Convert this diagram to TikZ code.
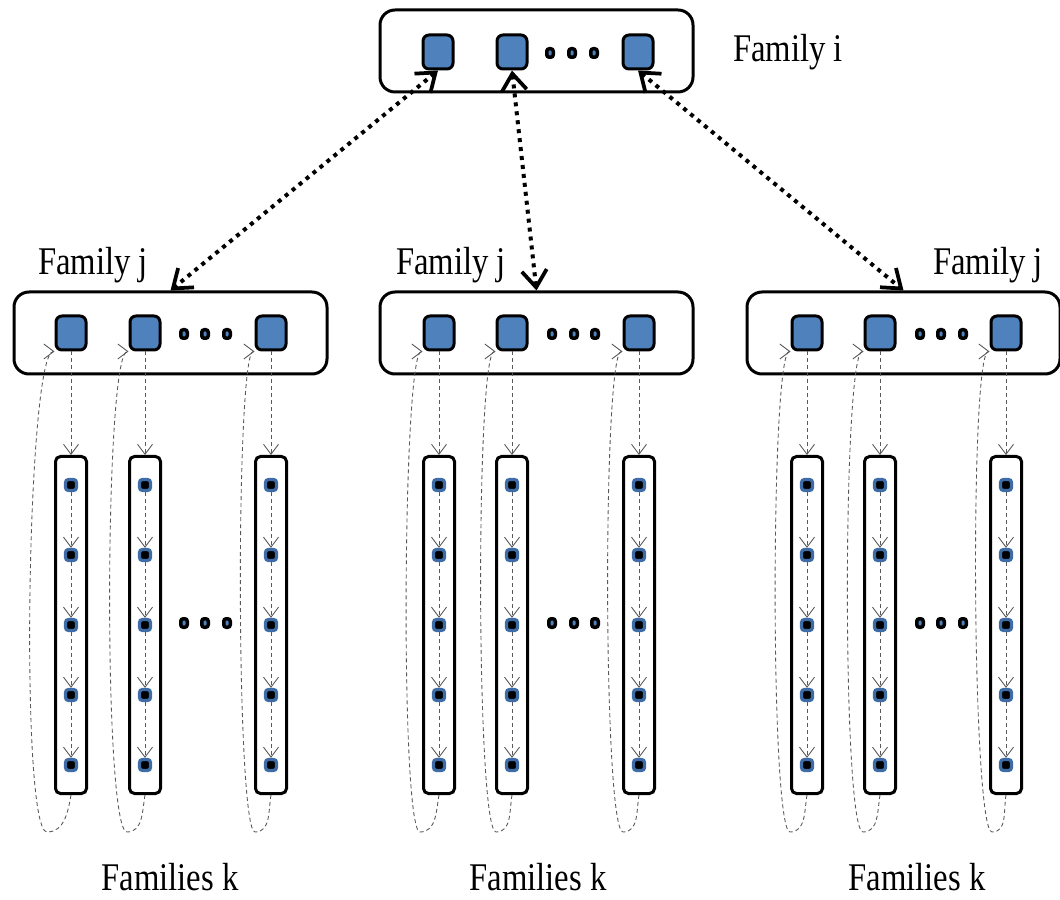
\documentclass[tikz,border=0pt]{standalone}
\usepackage{fontspec}
\setmainfont{Liberation Serif}
\usepackage{tikz}
\usetikzlibrary{arrows.meta,positioning,calc}
\definecolor{famblue}{RGB}{79,129,189}
\definecolor{subblue}{RGB}{62,108,166}
\newcommand{\tallname}[1]{\scalebox{1}[1.2]{#1}}

\begin{document}
\begin{tikzpicture}
\tikzstyle{groupbox}=[rectangle,rounded corners=0.3cm,draw=black,line width=0.06cm,minimum width=6.26cm,minimum height=1.64cm,inner sep=0pt]
\tikzstyle{member}=[rectangle,rounded corners=0.12cm,fill=famblue,draw=black,line width=0.06cm,minimum width=0.6cm,minimum height=0.68cm,inner sep=0pt]
\tikzstyle{ddot}=[rectangle,rounded corners=0.05cm,fill=famblue,draw=black,line width=0.07cm,minimum width=0.13cm,minimum height=0.17cm,inner sep=0pt]
\tikzstyle{famcol}=[rectangle,rounded corners=0.1cm,draw=black,line width=0.06cm,minimum width=0.62cm,minimum height=6.74cm,inner sep=0pt]
\tikzstyle{submember}=[rectangle,rounded corners=0.06cm,fill=black,draw=subblue,line width=0.065cm,minimum size=0.22cm,inner sep=0pt]
\tikzstyle{famlabel}=[font=\fontsize{18.6}{22}\selectfont,inner sep=0pt]
\tikzstyle{linkline}=[->,draw=black!65,line width=0.5pt,dash pattern=on 0.08cm off 0.06cm,>={Straight Barb[length=0.2cm,width=0.3cm]}]
\tikzstyle{crosslink}=[<->,line width=0.08cm,dash pattern=on 0.08cm off 0.1cm,>={Straight Barb[length=0.34cm,width=0.5cm,line width=0.075cm]}]

\useasboundingbox (0,0) rectangle (21.2,17.98);

%%%%%%%%%%%%%%%%%%%%%%%%%%%%%%%%%%%%%%%%%%%%%%%%%%%%%%%%%%%%%%%%%%%%%%%%
%family i
\node[groupbox] (famI) at (10.73,16.96) {};
\node[member] (i1) at (8.76,16.94) {};
\node[member] (i2) at (10.24,16.94) {};
\node[ddot] (idot1) at (11.00,16.92) {};
\node[ddot] (idot2) at (11.44,16.92) {};
\node[ddot] (idot3) at (11.88,16.92) {};
\node[member] (i3) at (12.76,16.94) {};
\node[famlabel] (labI) at (15.76,16.94) {\tallname{Family i}};

%%%%%%%%%%%%%%%%%%%%%%%%%%%%%%%%%%%%%%%%%%%%%%%%%%%%%%%%%%%%%%%%%%%%%%%%
%families j
%a
\node[groupbox] (famJa) at (3.41,11.32) {};
\node[member] (ja1) at (1.42,11.32) {};
\node[member] (ja2) at (2.90,11.32) {};
\node[ddot] (jadot1) at (3.68,11.30) {};
\node[ddot] (jadot2) at (4.10,11.30) {};
\node[ddot] (jadot3) at (4.54,11.30) {};
\node[member] (ja3) at (5.42,11.32) {};
\node[famlabel] (labJa) at (1.86,12.68) {\tallname{Family j}};
%b
\node[groupbox] (famJb) at (10.73,11.32) {};
\node[member] (jb1) at (8.78,11.32) {};
\node[member] (jb2) at (10.24,11.32) {};
\node[ddot] (jbdot1) at (11.04,11.30) {};
\node[ddot] (jbdot2) at (11.48,11.30) {};
\node[ddot] (jbdot3) at (11.90,11.30) {};
\node[member] (jb3) at (12.78,11.32) {};
\node[famlabel] (labJb) at (9.02,12.68) {\tallname{Family j}};
%c
\node[groupbox] (famJc) at (18.07,11.32) {};
\node[member] (jc1) at (16.14,11.32) {};
\node[member] (jc2) at (17.60,11.32) {};
\node[ddot] (jcdot1) at (18.40,11.30) {};
\node[ddot] (jcdot2) at (18.82,11.30) {};
\node[ddot] (jcdot3) at (19.26,11.30) {};
\node[member] (jc3) at (20.12,11.32) {};
\node[famlabel] (labJc) at (19.76,12.68) {\tallname{Family j}};

%%%%%%%%%%%%%%%%%%%%%%%%%%%%%%%%%%%%%%%%%%%%%%%%%%%%%%%%%%%%%%%%%%%%%%%%
%families k
\foreach \g/\m/\x/\b/\w in {a/1/1.42/0.48/0.55,a/2/2.90/0.36/0.48,a/3/5.42/0.32/0.38,
                            b/1/8.78/0.38/0.4,b/2/10.24/0.32/0.4,b/3/12.78/0.32/0.4,
                            c/1/16.14/0.34/0.4,c/2/17.60/0.34/0.42,c/3/20.12/0.28/0.4}{
  \node[famcol] (k\g\m) at (\x,5.48) {};
  \node[submember] (k\g\m-1) at (\x,8.28) {};
  \node[submember] (k\g\m-2) at (\x,6.88) {};
  \node[submember] (k\g\m-3) at (\x,5.48) {};
  \node[submember] (k\g\m-4) at (\x,4.08) {};
  \node[submember] (k\g\m-5) at (\x,2.68) {};
  \draw[linkline] (k\g\m-1) -- (k\g\m-2);
  \draw[linkline] (k\g\m-2) -- (k\g\m-3);
  \draw[linkline] (k\g\m-3) -- (k\g\m-4);
  \draw[linkline] (k\g\m-4) -- (k\g\m-5);
  % j -> k
  \draw[linkline] (j\g\m) -- (k\g\m);
  % k -> j
  \draw[linkline] (k\g\m.south) to[out=-100,in=0] ++(-\b,-0.74)
                  to[out=180,in=180,distance=\w cm] (j\g\m.south west);
}
%dots between columns
\node[ddot] (kadot1) at (3.68,5.52) {};
\node[ddot] (kadot2) at (4.10,5.52) {};
\node[ddot] (kadot3) at (4.54,5.52) {};
\node[ddot] (kbdot1) at (11.04,5.52) {};
\node[ddot] (kbdot2) at (11.48,5.52) {};
\node[ddot] (kbdot3) at (11.90,5.52) {};
\node[ddot] (kcdot1) at (18.40,5.52) {};
\node[ddot] (kcdot2) at (18.82,5.52) {};
\node[ddot] (kcdot3) at (19.26,5.52) {};

\node[famlabel] (labKa) at (3.40,0.44) {\tallname{Families k}};
\node[famlabel] (labKb) at (10.76,0.44) {\tallname{Families k}};
\node[famlabel] (labKc) at (18.34,0.44) {\tallname{Families k}};

%%%%%%%%%%%%%%%%%%%%%%%%%%%%%%%%%%%%%%%%%%%%%%%%%%%%%%%%%%%%%%%%%%%%%%%%
%ARROWS i<->j
\draw[crosslink] (i1.south) -- (famJa.north);
\draw[crosslink] (i2.south) -- (famJb.north);
\draw[crosslink] (i3.south) -- (famJc.north);

\end{tikzpicture}
\end{document}
